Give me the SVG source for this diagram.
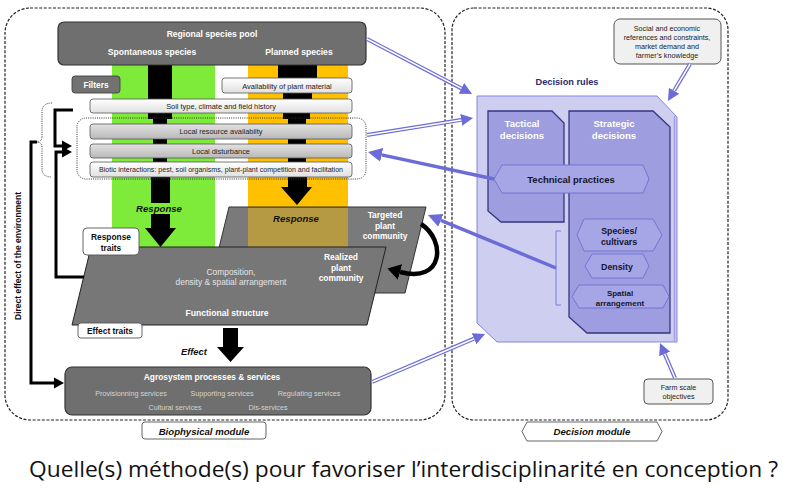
<svg xmlns="http://www.w3.org/2000/svg" width="785" height="488" viewBox="0 0 785 488">
<style>
text{font-family:"Liberation Sans",Arial,sans-serif}
.dash{fill:none;stroke:#222;stroke-width:1.2;stroke-dasharray:3 1.6}
.dot{fill:none;stroke:#333;stroke-width:1;stroke-dasharray:1 1.2}
.dk{fill:#6f6f6f;stroke:#333;stroke-width:1.2}
.fb{stroke:#555;stroke-width:0.8}
.ft{font-size:7.4px;fill:#222;text-anchor:middle}
.wb{font-weight:bold;fill:#fff;text-anchor:middle}
.bb{font-weight:bold;fill:#111;text-anchor:middle}
.bi{font-weight:bold;font-style:italic;fill:#111;text-anchor:middle}
.sv{font-size:7.2px;fill:#d4d4d4;text-anchor:middle}
.lbl{fill:#fff;stroke:#555;stroke-width:0.9}
.blk{fill:#000}
.bl{fill:none;stroke:#000;stroke-width:3}
.dbo{fill:none;stroke:#6c6cd8;stroke-width:4}
.dbi{fill:none;stroke:#fff;stroke-width:1.5}
.thk{fill:none;stroke:#6c6cd8;stroke-width:3.5}
.hex{fill:#a6a6e6;stroke:#7474d4;stroke-width:1}
.dec{fill:#9d9ddf;stroke:#36367f;stroke-width:1.3}
.ht{font-weight:bold;fill:#15152a;text-anchor:middle}
.gt{font-size:7.2px;fill:#222;text-anchor:middle}
</style>
<defs>
<linearGradient id="gLight" x1="0" y1="0" x2="0" y2="1"><stop offset="0" stop-color="#ffffff"/><stop offset="1" stop-color="#e0e0e0"/></linearGradient>
<linearGradient id="gMid" x1="0" y1="0" x2="0" y2="1"><stop offset="0" stop-color="#e2e2e2"/><stop offset="1" stop-color="#b8b8b8"/></linearGradient>
<marker id="mBlue" markerUnits="userSpaceOnUse" viewBox="0 -7 13 14" markerWidth="13" markerHeight="14" refX="0" refY="0" orient="auto"><path d="M0,-6 L12,0 L0,6 z" fill="#6c6cd8"/></marker>
<marker id="mBlueBig" markerUnits="userSpaceOnUse" viewBox="0 -8 15 16" markerWidth="15" markerHeight="16" refX="0" refY="0" orient="auto"><path d="M0,-7 L14,0 L0,7 z" fill="#6c6cd8"/></marker>
<marker id="mBlack" markerUnits="userSpaceOnUse" viewBox="0 -6 11 12" markerWidth="11" markerHeight="12" refX="0" refY="0" orient="auto"><path d="M0,-5.5 L10,0 L0,5.5 z" fill="#000"/></marker>
<marker id="mBlackBig" markerUnits="userSpaceOnUse" viewBox="0 -9 14 18" markerWidth="14" markerHeight="18" refX="0" refY="0" orient="auto"><path d="M0,-8 L13,0 L0,8 z" fill="#000"/></marker>
</defs>
<rect width="785" height="488" fill="#fff"/>

<g id="biophysical-module">
<rect class="dash" x="5" y="8" width="440" height="412" rx="25"/>
<rect class="lbl" x="142" y="422" width="124" height="17" rx="3"/>
<text class="bi" x="204" y="434.5" font-size="9.6">Biophysical module</text>
</g>

<g id="decision-module">
<rect class="dash" x="452" y="8" width="276" height="412" rx="22"/>
<polygon class="lbl" points="522,431.5 527,422 657,422 662,431.5 657,441 527,441"/>
<text class="bi" x="592" y="435" font-size="9.6">Decision module</text>
</g>

<g id="columns">
<rect x="112" y="65" width="103" height="182" fill="#7eea3a"/>
<rect x="248" y="65" width="100" height="142" fill="#ffc000"/>
<rect class="blk" x="148" y="65" width="24" height="35"/>
<rect class="blk" x="148" y="113" width="24" height="6"/>
<rect class="blk" x="153" y="119" width="14" height="5"/>
<rect class="blk" x="153" y="139" width="14" height="5"/>
<rect class="blk" x="153" y="158" width="14" height="4"/>
<rect class="blk" x="151" y="176" width="19" height="27"/>
<polygon class="blk" points="151,214 170,214 170,228 176,228 160.5,247 145,228 151,228"/>
<rect class="blk" x="278" y="65" width="39" height="13"/>
<rect class="blk" x="283" y="93" width="29" height="6"/>
<rect class="blk" x="283" y="113" width="27" height="6"/>
<rect class="blk" x="288" y="119" width="18" height="5"/>
<rect class="blk" x="288" y="139" width="18" height="5"/>
<rect class="blk" x="288" y="158" width="18" height="4"/>
<polygon class="blk" points="288,176 307,176 307,187 312,187 297,205 281,187 288,187"/>
<text class="bi" x="159" y="211.5" font-size="9.6">Response</text>
</g>

<g id="regional-species-pool">
<rect class="dk" x="58" y="22" width="308" height="43" rx="6"/>
<text class="wb" x="212" y="37" font-size="8.6">Regional species pool</text>
<text class="wb" x="152" y="55" font-size="8.6">Spontaneous species</text>
<text class="wb" x="299" y="55" font-size="8.6">Planned species</text>
</g>

<g id="filters">
<rect x="72" y="76" width="48" height="17" rx="3" fill="#727272" stroke="#444" stroke-width="0.9"/>
<text class="wb" x="96" y="88" font-size="8.4">Filters</text>
</g>
<g id="availability">
<rect class="fb" x="222" y="78" width="130" height="15" rx="3" fill="url(#gLight)"/>
<text class="ft" x="287" y="88.5">Availability of plant material</text>
</g>
<g id="soil-type">
<rect class="fb" x="90" y="99" width="262" height="14" rx="3" fill="url(#gLight)"/>
<text class="ft" x="221" y="108.5">Soil type, climate and field history</text>
</g>
<g id="local-resource">
<rect class="fb" x="90" y="124" width="262" height="15" rx="3" fill="url(#gMid)"/>
<text class="ft" x="221" y="134">Local resource availabilty</text>
</g>
<g id="local-disturbance">
<rect class="fb" x="90" y="144" width="262" height="14" rx="3" fill="url(#gMid)"/>
<text class="ft" x="221" y="153.5">Local disturbance</text>
</g>
<g id="biotic">
<rect class="fb" x="90" y="162" width="262" height="15" rx="3" fill="url(#gLight)"/>
<text class="ft" x="99" y="172" style="text-anchor:start" textLength="244" lengthAdjust="spacingAndGlyphs" font-size="7">Biotic interactions: pest, soil organisms, plant-plant competition and facilitation</text>
</g>
<g id="dotted-brackets">
<rect class="dot" x="77" y="118" width="289" height="61" rx="9"/>
<path class="dot" d="M52,103 Q42,103 42,112 L42,136 Q42,142 37,142 Q42,142 42,148 L42,169 Q42,177 52,177"/>
</g>

<g id="targeted-community">
<polygon points="229,207 426,207 405,293 208,293" fill="#7a7a7a" stroke="#333" stroke-width="1"/>
<rect x="248" y="208" width="100" height="39" fill="#ffc000" opacity="0.45"/>
<text class="bi" x="296" y="221.5" font-size="9.6">Response</text>
<text class="wb" x="385" y="218" font-size="8.4">Targeted</text>
<text class="wb" x="385" y="228.5" font-size="8.4">plant</text>
<text class="wb" x="385" y="239" font-size="8.4">community</text>
</g>

<g id="functional-structure">
<polygon points="91,247 386,247 367,325 72,325" fill="#777" stroke="#222" stroke-width="1"/>
<text x="231" y="275" font-size="8.4" fill="#e4e4e4" text-anchor="middle">Composition,</text>
<text x="231" y="285" font-size="8.4" fill="#e4e4e4" text-anchor="middle">density &amp; spatial arrangement</text>
<text class="wb" x="341" y="260" font-size="8.4">Realized</text>
<text class="wb" x="341" y="270.5" font-size="8.4">plant</text>
<text class="wb" x="341" y="281" font-size="8.4">community</text>
<text class="wb" x="227" y="316" font-size="8.6">Functional structure</text>
</g>

<g id="response-traits">
<rect class="lbl" x="83" y="228" width="56" height="27" rx="4"/>
<text class="bb" x="111" y="240" font-size="8.4">Response</text>
<text class="bb" x="111" y="250.5" font-size="8.4">traits</text>
</g>
<g id="effect-traits">
<rect class="lbl" x="78" y="323" width="64" height="15" rx="3"/>
<text class="bb" x="110" y="334" font-size="8.4">Effect traits</text>
</g>

<g id="effect-arrow">
<polygon class="blk" points="223,328 238,328 238,347 244,347 230.5,362 217,347 223,347"/>
<text class="bi" x="194" y="355" font-size="9.4">Effect</text>
</g>

<g id="agrosystem">
<rect class="dk" x="65" y="367" width="306" height="48" rx="7"/>
<text class="wb" x="212" y="380" font-size="8.4">Agrosystem processes &amp; services</text>
<text class="sv" x="131" y="395.5">Provisionning services</text>
<text class="sv" x="222" y="395.5">Supporting services</text>
<text class="sv" x="309" y="395.5">Regulating services</text>
<text class="sv" x="175" y="409.5">Cultural services</text>
<text class="sv" x="268" y="409.5">Dis-services</text>
</g>

<g id="direct-effect-label">
<text class="bb" font-size="8.5" transform="translate(21,256) rotate(-90)" x="0" y="0">Direct effect of the environment</text>
</g>

<g id="social">
<rect x="614" y="19" width="107" height="45" rx="6" fill="#f0f0f0" stroke="#555" stroke-width="1"/>
<text class="gt" x="667" y="30.5">Social and economic</text>
<text class="gt" x="667" y="39.5">references and constraints,</text>
<text class="gt" x="667" y="48.5">market demand and</text>
<text class="gt" x="667" y="57.5">farmer’s knowledge</text>
</g>

<g id="farm">
<rect x="644" y="379" width="69" height="25" rx="4" fill="#f0f0f0" stroke="#555" stroke-width="1"/>
<text class="gt" x="678.5" y="389.5">Farm scale</text>
<text class="gt" x="678.5" y="399">objectives</text>
</g>

<g id="decision-rules">
<text x="567" y="85" font-size="9.2" font-weight="bold" fill="#2a2a6e" text-anchor="middle">Decision rules</text>
<polygon points="477,96 657,96 677,117 677,342 497,342 477,323" fill="#cdcef0" stroke="#8585dd" stroke-width="1"/>
<line x1="674.5" y1="116" x2="674.5" y2="342" stroke="#a0a0e6" stroke-width="1.5"/>
</g>
<g id="tactical">
<polygon class="dec" points="488,111 552,111 564,123 564,222 501,222 488,211"/>
<text class="wb" x="522" y="127" font-size="9.6">Tactical</text>
<text class="wb" x="522" y="139" font-size="9.6">decisions</text>
</g>
<g id="strategic">
<polygon class="dec" points="569,111 653,111 670,127 670,333 587,333 569,317"/>
<text class="wb" x="614" y="127" font-size="9.6">Strategic</text>
<text class="wb" x="614" y="139" font-size="9.6">decisions</text>
</g>
<g id="technical-practices">
<polygon class="hex" points="494,179 502,165 643,165 649,179 643,193 502,193"/>
<text class="ht" x="571" y="182.5" font-size="9.5">Technical practices</text>
</g>
<g id="species">
<polygon class="hex" points="577,235 584,219 653,219 662,235 653,251 584,251"/>
<text class="ht" x="619" y="234" font-size="8.8">Species/</text>
<text class="ht" x="619" y="245" font-size="8.8">cultivars</text>
</g>
<g id="density">
<polygon class="hex" points="585,266 592,254 643,254 649,266 643,278 592,278"/>
<text class="ht" x="617" y="269.5" font-size="8.8">Density</text>
</g>
<g id="spatial">
<polygon class="hex" points="572,296.5 579,285 663,285 669,296.5 663,308 579,308"/>
<text class="ht" x="620" y="296" font-size="8">Spatial</text>
<text class="ht" x="620" y="306" font-size="8">arrangement</text>
</g>

<g id="connectors">
<path d="M561,231 L556,231 L556,305 L561,305" fill="none" stroke="#7b7bdc" stroke-width="1"/>
<path class="bl" d="M73,110 L55,110 L55,146 L62,146" marker-end="url(#mBlack)"/>
<path class="bl" d="M84,277 L56,277 L56,152 L62,152" marker-end="url(#mBlack)"/>
<path class="bl" d="M37,142 L31,142 L31,383 L54,383" marker-end="url(#mBlack)"/>
<path d="M421,224 C446,240 444,284 400,272" fill="none" stroke="#000" stroke-width="4.5" marker-end="url(#mBlackBig)"/>
<path class="dbo" d="M367,39 L461.4,88.4" marker-end="url(#mBlue)"/>
<path class="dbi" d="M367,39 L461.4,88.4"/>
<path class="dbo" d="M367,135 L461.2,119.9" marker-end="url(#mBlue)"/>
<path class="dbi" d="M367,135 L461.2,119.9"/>
<path class="dbo" d="M372,382 L474,338.7" marker-end="url(#mBlue)"/>
<path class="dbi" d="M372,382 L474,338.7"/>
<path class="dbo" d="M675,378 L664.7,354" marker-end="url(#mBlue)"/>
<path class="dbi" d="M675,378 L664.7,354"/>
<path class="dbo" d="M690,64 L674.1,90.7" marker-end="url(#mBlue)"/>
<path class="dbi" d="M690,64 L674.1,90.7"/>
<path class="thk" d="M494,179 L381.7,154.9" marker-end="url(#mBlueBig)"/>
<path class="thk" d="M556,268 L440.9,220.4" marker-end="url(#mBlueBig)"/>
</g>

<text x="29" y="477" font-family="'Open Sans',sans-serif" font-size="21" fill="#111" textLength="749" lengthAdjust="spacingAndGlyphs" style="font-family:'Open Sans','Noto Sans',sans-serif">Quelle(s) méthode(s) pour favoriser l’interdisciplinarité en conception ?</text>
</svg>
